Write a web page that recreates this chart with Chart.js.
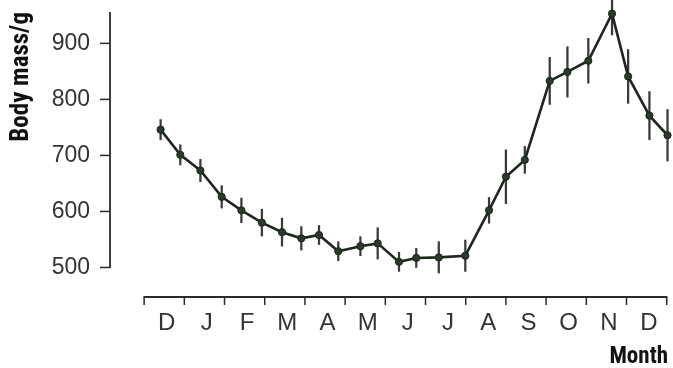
<!DOCTYPE html>
<html>
<head>
<meta charset="utf-8">
<script src="https://cdn.jsdelivr.net/npm/chart.js@4.4.1/dist/chart.umd.min.js"></script>
<style>
  html, body { margin: 0; padding: 0; background: #ffffff; }
  #wrap { width: 673px; height: 368px; }
</style>
</head>
<body>
<div id="wrap"><canvas id="c" width="673" height="368"></canvas></div>
<script>
// ---- data ----
// x position in months (0 = start of December)
const monthPos = [0.41, 0.90, 1.40, 1.93, 2.42, 2.93, 3.43, 3.91, 4.35, 4.83, 5.38, 5.81, 6.34,
                  6.77, 7.33, 7.99, 8.58, 9.00, 9.47, 10.09, 10.53, 11.05, 11.64, 12.04, 12.57, 13.02];
const bodyMass = [746, 701, 673, 626, 602, 580, 563, 552, 558, 529, 538, 543, 510,
                  517, 518, 521, 602, 662, 692, 833, 849, 869, 953, 841, 771, 736];
const massErr  = [18, 18, 20, 20, 22, 24, 25, 21, 17, 17, 17, 28, 17,
                  17, 28, 28, 23, 48, 24, 42, 45, 40, 38, 48, 43, 46];
const monthLabels = ['D', 'J', 'F', 'M', 'A', 'M', 'J', 'J', 'A', 'S', 'O', 'N', 'D'];
const monthTicks = [0, 1, 2, 3, 4, 5, 6, 7, 8, 9, 10, 11, 12, 13];
const yTickValues = [500, 600, 700, 800, 900];

const points = monthPos.map((x, i) => ({ x: x, y: bodyMass[i] }));
const errBars = monthPos.map((x, i) => ({ x: x, y: [bodyMass[i] - massErr[i], bodyMass[i] + massErr[i]] }));

const INK = '#2a2a2a';
const TEXT = '#333333';
const TITLE_FONT = '"Roboto Condensed", "Open Sans Condensed", "Liberation Sans Narrow", sans-serif';

// axis lines and tick marks, placed through the chart's scales
const axisLines = {
  id: 'axisLines',
  afterDraw(chart) {
    const { ctx, chartArea, scales: { x, y } } = chart;
    ctx.save();
    ctx.strokeStyle = INK;
    // y axis
    const yx = chartArea.left;
    ctx.lineWidth = 1.8;
    ctx.beginPath();
    ctx.moveTo(yx, y.getPixelForValue(yTickValues[0]) + 0.6);
    ctx.lineTo(yx, chartArea.top);
    ctx.stroke();
    ctx.lineWidth = 1.5;
    yTickValues.forEach(v => {
      const py = y.getPixelForValue(v);
      ctx.beginPath();
      ctx.moveTo(yx, py);
      ctx.lineTo(yx - 10, py);
      ctx.stroke();
    });
    // x axis
    const xb = chartArea.bottom;
    ctx.lineWidth = 1.8;
    ctx.beginPath();
    ctx.moveTo(x.getPixelForValue(monthTicks[0]) - 0.6, xb);
    ctx.lineTo(x.getPixelForValue(monthTicks[monthTicks.length - 1]) + 0.6, xb);
    ctx.stroke();
    ctx.lineWidth = 1.5;
    monthTicks.forEach(v => {
      const px = x.getPixelForValue(v);
      ctx.beginPath();
      ctx.moveTo(px, xb);
      ctx.lineTo(px, xb + 8);
      ctx.stroke();
    });
    ctx.restore();
  }
};

new Chart(document.getElementById('c'), {
  type: 'line',
  data: {
    datasets: [
      {
        type: 'line',
        data: points,
        borderColor: '#1e261e',
        borderWidth: 2.6,
        pointRadius: 3.6,
        pointBackgroundColor: '#2c3a2c',
        pointBorderColor: '#1b221b',
        pointBorderWidth: 1,
        tension: 0,
        clip: false,
        order: 1
      },
      {
        type: 'bar',
        data: errBars,
        backgroundColor: '#3a3a3a',
        borderWidth: 0,
        barThickness: 1.6,
        grouped: false,
        clip: false,
        order: 2
      }
    ]
  },
  options: {
    responsive: false,
    animation: false,
    devicePixelRatio: 1,
    layout: { padding: { top: 12, right: 2, bottom: 0, left: 0 } },
    plugins: { legend: { display: false }, tooltip: { enabled: false } },
    scales: {
      x: {
        type: 'linear',
        min: -0.849,
        max: 13.032,
        offset: false,
        afterBuildTicks: (s) => { s.ticks = monthTicks.map(v => ({ value: v })); },
        afterFit: (s) => { s.height = 71; s.paddingLeft = 0; s.paddingRight = 0; },
        ticks: {
          autoSkip: false,
          maxRotation: 0,
          labelOffset: 22.5,
          padding: 12,
          color: TEXT,
          font: { family: '"Liberation Sans", Arial, sans-serif', size: 24 },
          callback: (v, i) => (i < monthLabels.length ? monthLabels[i] : '')
        },
        grid: { display: false, drawTicks: false, tickLength: 0 },
        border: { display: false },
        title: {
          display: true,
          text: 'Month',
          align: 'end',
          color: '#111111',
          padding: { top: 0, bottom: -1 },
          font: { family: TITLE_FONT, size: 23, weight: 'bold', lineHeight: 1 }
        }
      },
      y: {
        type: 'linear',
        min: 447.3,
        max: 956,
        afterBuildTicks: (s) => { s.ticks = yTickValues.map(v => ({ value: v })); },
        afterFit: (s) => { s.width = 110; s.paddingTop = 0; s.paddingBottom = 0; },
        ticks: {
          padding: 20,
          color: TEXT,
          font: { family: '"Liberation Sans", Arial, sans-serif', size: 23 }
        },
        grid: { display: false, drawTicks: false, tickLength: 0 },
        border: { display: false },
        title: {
          display: true,
          text: 'Body mass/g',
          align: 'end',
          color: '#111111',
          padding: { top: 9, bottom: 0 },
          font: { family: TITLE_FONT, size: 25, weight: 'bold', lineHeight: 1 }
        }
      }
    }
  },
  plugins: [axisLines]
});
</script>
</body>
</html>
